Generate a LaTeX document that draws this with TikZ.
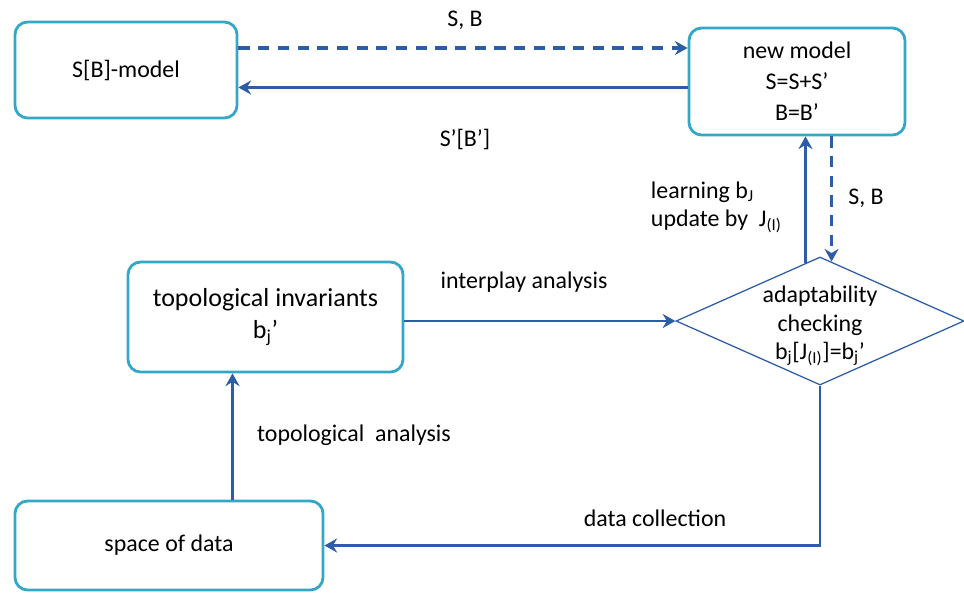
\documentclass[tikz,border=0pt]{standalone}
\usepackage{fontspec}
\setmainfont{Carlito}
\usetikzlibrary{arrows.meta,shapes.geometric}

\definecolor{boxcyan}{HTML}{34A6C6}
\definecolor{arrblue}{HTML}{2C5DA6}

\begin{document}
\begin{tikzpicture}[
  x=0.025cm,y=-0.025cm,
  box/.style={draw=boxcyan,line width=2pt,rounded corners=9pt,align=center,
    font=\fontsize{17}{22}\selectfont},
  check/.style={draw=arrblue,line width=0.9pt,diamond,inner sep=0pt,
    minimum width=7.2cm,minimum height=3.2cm},
  conn/.style={draw=arrblue,line width=2pt,-{Stealth[length=9pt,width=10pt,inset=3pt]}},
  link/.style={conn,line width=2.6pt,dash pattern=on 8pt off 6pt},
  label/.style={font=\fontsize{17}{20}\selectfont,text=black},
]
\useasboundingbox (0,0) rectangle (964,594);
% boxes
\node[box,minimum width=5.55cm,minimum height=2.4cm] (sbm) at (126,70) {S[B]-model};
\node[box,minimum width=5.4cm,minimum height=2.675cm] (newm) at (797,81.5)
  {new model\\S=S+S’\\B=B’};
\node[box,minimum width=6.875cm,minimum height=2.75cm,font=\fontsize{18.5}{23}\selectfont]
  (topinv) at (265.5,317) {topological invariants\\b\textsubscript{j}’};
\node[box,minimum width=7.7cm,minimum height=2.225cm] (space) at (169,545.5) {space of data};
\node[check] (chk) at (820,321) {};
\node[label,align=center] (chktext) at (820,326)
  {adaptability\\checking\\b\textsubscript{j}[J\textsubscript{(I)}]=b\textsubscript{j}’};
% top pair of arrows
\path (sbm.east) ++(0,-22) coordinate (sb1);
\draw[link] (sb1) -- (sb1 -| newm.west);
\path (newm.west) ++(0,6) coordinate (sb2);
\draw[conn] (sb2) -- (sb2 -| sbm.east);
\node[label] (lsb) at (465,20) {S, B};
\node[label] (lsbp) at (465,139) {S’[B’]};
% between new model and checking
\draw[conn] (chk.104) -- (chk.104 |- newm.south);
\draw[link] (chk.79 |- newm.south) -- (chk.79);
\node[label,align=left,anchor=west] (llearn) at (646,207)
  {learning b\textsubscript{J}\\update by\ \ J\textsubscript{(I)}};
\node[label] (lsb2) at (866,198) {S, B};
% lower arrows
\draw[conn] (chk.west -| topinv.east) -- (chk.west);
\node[label] (linter) at (524,282) {interplay analysis};
\path (topinv.south) ++(-33,0) coordinate (ta);
\draw[conn] (ta |- space.north) -- (ta);
\node[label] (ltopo) at (354,435) {topological\ \ analysis};
\draw[conn] (chk.south) |- (space.east);
\node[label] (ldata) at (655,518) {data collection};
\end{tikzpicture}
\end{document}
